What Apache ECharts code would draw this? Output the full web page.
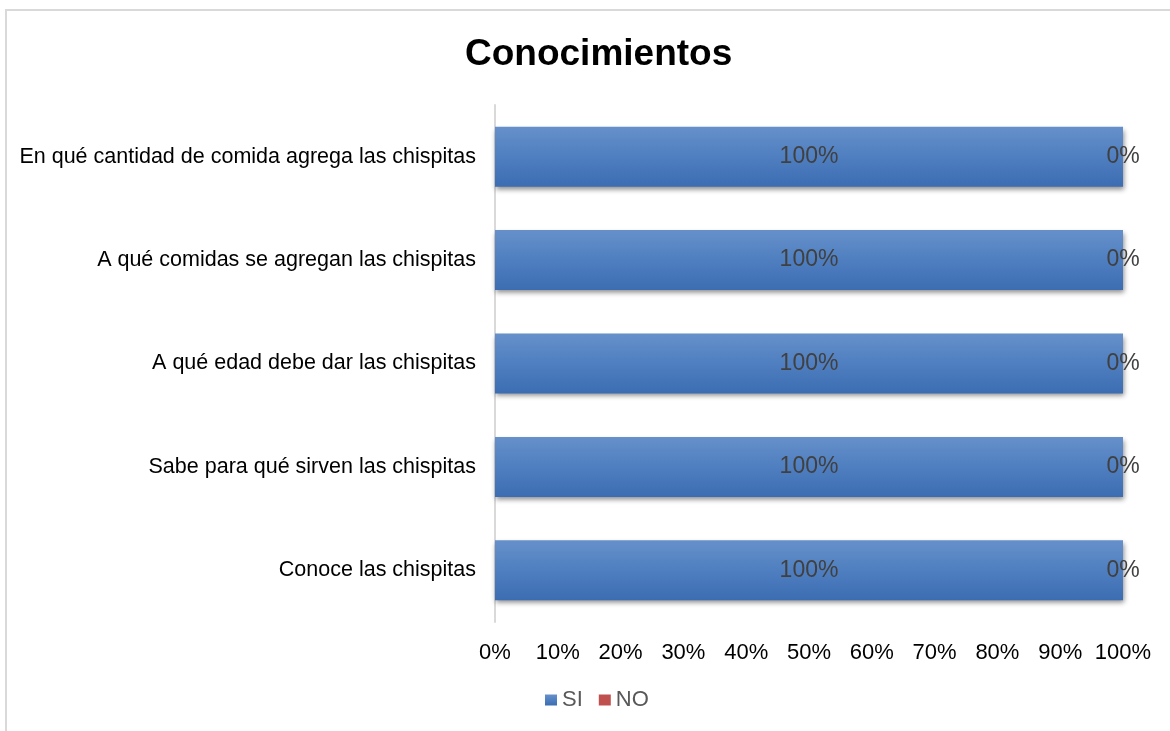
<!DOCTYPE html>
<html>
<head>
<meta charset="utf-8">
<script src="https://cdn.jsdelivr.net/npm/echarts@6/dist/echarts.min.js"></script>
<style>
  html, body { margin: 0; padding: 0; background: #fff; }
  #frame { position: absolute; left: 5px; top: 9px; width: 1165px; height: 722px;
           border-left: 2px solid #d9d9d9; border-top: 2px solid #d9d9d9; box-sizing: border-box; }
  #chart { position: absolute; left: 0; top: 0; width: 1170px; height: 731px; }
</style>
</head>
<body>
<div id="frame"></div>
<div id="chart"></div>
<script>
// Survey questions (bottom to top on the chart)
const categories = [
  'Conoce las chispitas',
  'Sabe para qué sirven las chispitas',
  'A qué edad debe dar las chispitas',
  'A qué comidas se agregan las chispitas',
  'En qué cantidad de comida agrega las chispitas'
];
// Share of answers, in percent
const siValues = [100, 100, 100, 100, 100];
const noValues = [0, 0, 0, 0, 0];
const tickLabels = ['0%', '10%', '20%', '30%', '40%', '50%', '60%', '70%', '80%', '90%', '100%'];

const font = 'Liberation Sans, Arial, sans-serif';

const chart = echarts.init(document.getElementById('chart'), null, { renderer: 'canvas' });

const barLabel = {
  show: true,
  position: 'inside',
  formatter: p => p.value + '%',
  color: '#404040',
  fontFamily: font,
  fontSize: 23
};

chart.setOption({
  animation: false,
  title: {
    text: 'Conocimientos',
    left: 460,
    top: 31,
    textStyle: { fontFamily: font, fontSize: 37, fontWeight: 'bold', color: '#000' }
  },
  legend: {
    bottom: 15,
    left: 540,
    itemWidth: 12,
    itemHeight: 11,
    itemGap: 16,
    icon: 'rect',
    textStyle: { fontFamily: font, fontSize: 22, color: '#595959', padding: [0, 0, 0, 0] },
    data: ['SI', 'NO']
  },
  grid: { left: 495, right: 47, top: 105, bottom: 109, containLabel: false },
  xAxis: {
    type: 'value',
    min: 0,
    max: 100,
    interval: 10,
    axisLine: { show: false },
    axisTick: { show: false },
    splitLine: { show: false },
    axisLabel: {
      margin: 20,
      fontFamily: font,
      fontSize: 22,
      color: '#000',
      formatter: v => tickLabels[Math.round(v / 10)]
    }
  },
  yAxis: {
    type: 'category',
    data: categories,
    axisLine: { show: true, lineStyle: { color: '#d9d9d9', width: 2 } },
    axisTick: { show: false },
    axisLabel: { margin: 19, fontFamily: font, fontSize: 21.5, color: '#000' }
  },
  series: [
    {
      name: 'SI',
      type: 'bar',
      stack: 'total',
      data: siValues,
      barCategoryGap: '42%',
      itemStyle: {
        color: new echarts.graphic.LinearGradient(0, 0, 0, 1, [
          { offset: 0, color: '#6690ca' },
          { offset: 0.5, color: '#4f7fc0' },
          { offset: 1, color: '#3c6db2' }
        ]),
        shadowColor: 'rgba(0,0,0,0.45)',
        shadowBlur: 5,
        shadowOffsetX: 1,
        shadowOffsetY: 3
      },
      label: barLabel
    },
    {
      name: 'NO',
      type: 'bar',
      stack: 'total',
      data: noValues,
      itemStyle: { color: '#c0504d' },
      label: barLabel
    }
  ]
});
</script>
</body>
</html>
